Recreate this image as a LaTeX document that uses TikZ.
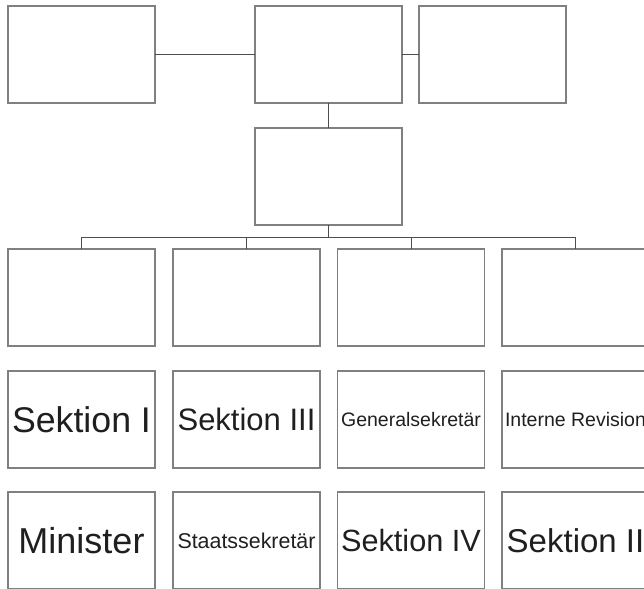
\documentclass[tikz,border=0pt]{standalone}
\usepackage{fontspec}
\setmainfont{Liberation Sans}
\definecolor{boxline}{HTML}{808080}
\definecolor{conn}{HTML}{4D4D4D}
\definecolor{txt}{HTML}{1F1F1F}
\newcommand\fsz[1]{\fontsize{#1}{#1}\selectfont}
\begin{document}
\begin{tikzpicture}[x=1pt,y=-1pt,
  orgbox/.style={draw=boxline,line width=1.3pt,fill=white,minimum width=147pt,minimum height=97pt,inner sep=0pt,outer sep=0pt,anchor=north west,text=txt,align=center},
  link/.style={draw=conn,line width=1pt}]
\fill[white] (0,0) rectangle (644,588);
\useasboundingbox (0,0) rectangle (644,588);
% top row
\node[orgbox] (tl) at (8,6) {};
\node[orgbox] (tc) at (255,6) {};
\node[orgbox] (tr) at (419,6) {};
% middle
\node[orgbox] (mid) at (255,128) {};
% row 3
\node[orgbox] (r3a) at (8,249) {};
\node[orgbox] (r3b) at (173,249) {};
\node[orgbox] (r3c) at (337.5,249) {};
\node[orgbox] (r3d) at (502,249) {};
% row 4
\node[orgbox] (r4a) at (8,371) {\fsz{35.7}Sektion I};
\node[orgbox] (r4b) at (173,371) {\fsz{31}Sektion III};
\node[orgbox] (r4c) at (337.5,371) {\fsz{19.5}Generalsekretär};
\node[orgbox] (r4d) at (502,371) {\fsz{19.5}Interne Revision};
% row 5
\node[orgbox] (r5a) at (8,492) {\fsz{36}Minister};
\node[orgbox] (r5b) at (173,492) {\fsz{21.4}Staatssekretär};
\node[orgbox] (r5c) at (337.5,492) {\fsz{30.7}Sektion IV};
\node[orgbox] (r5d) at (502,492) {\fsz{33}Sektion II};
% connectors
\draw[link] (tl.east) -- (tc.west);
\draw[link] (tc.east) -- (tr.west);
\draw[link] (tc.south) -- (mid.north);
\coordinate (busy) at (0,237);
\draw[link] (mid.south) -- (mid.south |- busy);
\draw[link] (r3a.north) -- (r3a.north |- busy) -- (r3d.north |- busy) -- (r3d.north);
\draw[link] (r3b.north) -- (r3b.north |- busy);
\draw[link] (r3c.north) -- (r3c.north |- busy);
\end{tikzpicture}
\end{document}
